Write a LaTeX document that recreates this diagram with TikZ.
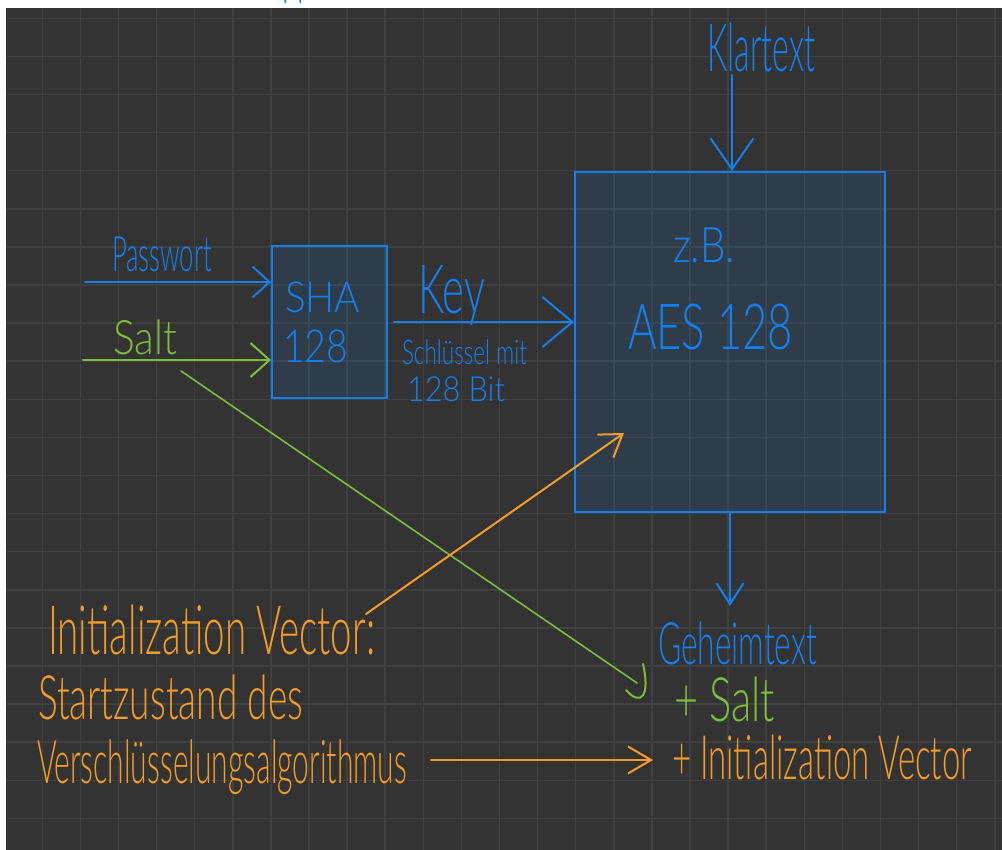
\documentclass[tikz,border=0pt]{standalone}
\usepackage{fontspec}
\usepackage{graphicx}
\usetikzlibrary{arrows.meta}
\IfFontExistsTF{Lato Light}{\newfontfamily\hand{Lato Light}}{\newfontfamily\hand{Lato}}
\definecolor{canvas}{HTML}{333333}
\definecolor{gridc}{HTML}{404040}
\definecolor{penblue}{HTML}{1480F0}
\definecolor{pengreen}{HTML}{7DBE3A}
\definecolor{penorange}{HTML}{F29D2A}
% text squeezed into a given width and total height (in pt)
\newcommand{\handtext}[3]{{\hand\resizebox*{#1pt}{#2pt}{#3}}}

\begin{document}
\begin{tikzpicture}[x=1pt,y=-1pt,
  gridline/.style={draw=gridc, line width=1.5pt},
  box/.style={draw=penblue, line width=2pt, fill=penblue, fill opacity=0.12,
              draw opacity=1, text opacity=1, inner sep=0pt},
  ink/.style={anchor=north west, inner sep=0pt, outer sep=0pt},
  wire/.style={line width=2pt, line cap=round, line join=round},
  thinwire/.style={line width=1.6pt, line cap=round, line join=round}]

\useasboundingbox (0,0) rectangle (1002,850);
\fill[white] (0,0) rectangle (1002,850);
\fill[canvas] (6,8) rectangle (1002,850);

% paper grid
\foreach \i in {0,...,25}
  \draw[gridline] ({42.3+38.1*\i},8) -- ({42.3+38.1*\i},850);
\foreach \j in {0,...,21}
  \draw[gridline] (6,{18.3+38.1*\j}) -- (1002,{18.3+38.1*\j});

% strokes at the top edge
\draw[penblue, line width=1.5pt] (285,0) -- (285.6,3);
\draw[penblue, line width=1.5pt] (300,0) -- (300.6,3);

% blocks
\node[box, minimum width=115pt, minimum height=152pt] (sha) at (329.5,322) {};
\node[box, minimum width=310pt, minimum height=340pt] (aes) at (730,342) {};

% labels
\node[ink, text=penblue]   (pw)     at (112,237) {\handtext{100}{35}{Passwort}};
\node[ink, text=pengreen]  (salt)   at (113,320) {\handtext{64}{35}{Salt}};
\node[ink, text=penblue]   (shaA)   at (285,282) {\handtext{75}{31}{SHA}};
\node[ink, text=penblue]   (sha128) at (283,330) {\handtext{65}{33}{128}};
\node[ink, text=penblue]   (key)    at (418,265) {\handtext{67}{60}{Key}};
\node[ink, text=penblue]   (sch)    at (402,340) {\handtext{125}{25}{Schlüssel mit}};
\node[ink, text=penblue]   (bit)    at (407,377) {\handtext{98}{25}{128 Bit}};
\node[ink, text=penblue]   (klar)   at (707,23)  {\handtext{108}{49}{Klartext}};
\node[ink, text=penblue]   (zb)     at (673,228) {\handtext{62}{35}{z.B.}};
\node[ink, text=penblue]   (aesT)   at (628,304) {\handtext{165}{46}{AES 128}};
\node[ink, text=penblue]   (geh)    at (658,622) {\handtext{159}{43}{Geheimtext}};
\node[ink, text=pengreen]  (psalt)  at (674,677) {\handtext{101}{45}{+ Salt}};
\node[ink, text=penorange] (piv)    at (672,735) {\handtext{300}{45}{+ Initialization Vector}};
\node[ink, text=penorange] (iv)     at (48,605)  {\handtext{327}{50}{Initialization Vector:}};
\node[ink, text=penorange] (start)  at (38,675)  {\handtext{265}{45}{Startzustand des}};
\node[ink, text=penorange] (vers)   at (37,740)  {\handtext{370}{55}{Verschlüsselungsalgorithmus}};

% connector ends
\coordinate (pw0) at (85,282);
\coordinate (s0)  at (83,360);
\coordinate (k0)  at (394,322);
\coordinate (kt0) at (732,75);
\coordinate (g1)  at (730,606);
\coordinate (sd0) at (181,371);
\coordinate (sd1) at (637,683);
\coordinate (iv0) at (366,614);
\coordinate (iv1) at (624,433);
\coordinate (h0)  at (431,760);
\coordinate (h1)  at (653,760);

% connectors
\draw[wire, penblue, -{Straight Barb[length=17pt,width=31pt]}] (pw0) -- (pw0 -| sha.west);
\draw[wire, pengreen, -{Straight Barb[length=19pt,width=34pt]}] (s0) -- (s0 -| sha.west);
\draw[wire, penblue, -{Straight Barb[length=30pt,width=50pt]}] (k0) -- (k0 -| aes.west);
\draw[wire, penblue, -{Straight Barb[length=31pt,width=43pt]}] (kt0) -- (kt0 |- aes.north);
\draw[wire, penblue, -{Straight Barb[length=21pt,width=27pt]}] (g1 |- aes.south) -- (g1);
\draw[thinwire, pengreen] (sd0) -- (sd1);
\draw[wire, pengreen] (643,664) .. controls (650,694) and (642,708) .. (626,690);
\draw[wire, penorange, -{Straight Barb[length=21pt,width=28pt]}] (iv0) -- (iv1);
\draw[wire, penorange, -{Straight Barb[length=23pt,width=27pt]}] (h0) -- (h1);
\end{tikzpicture}
\end{document}
